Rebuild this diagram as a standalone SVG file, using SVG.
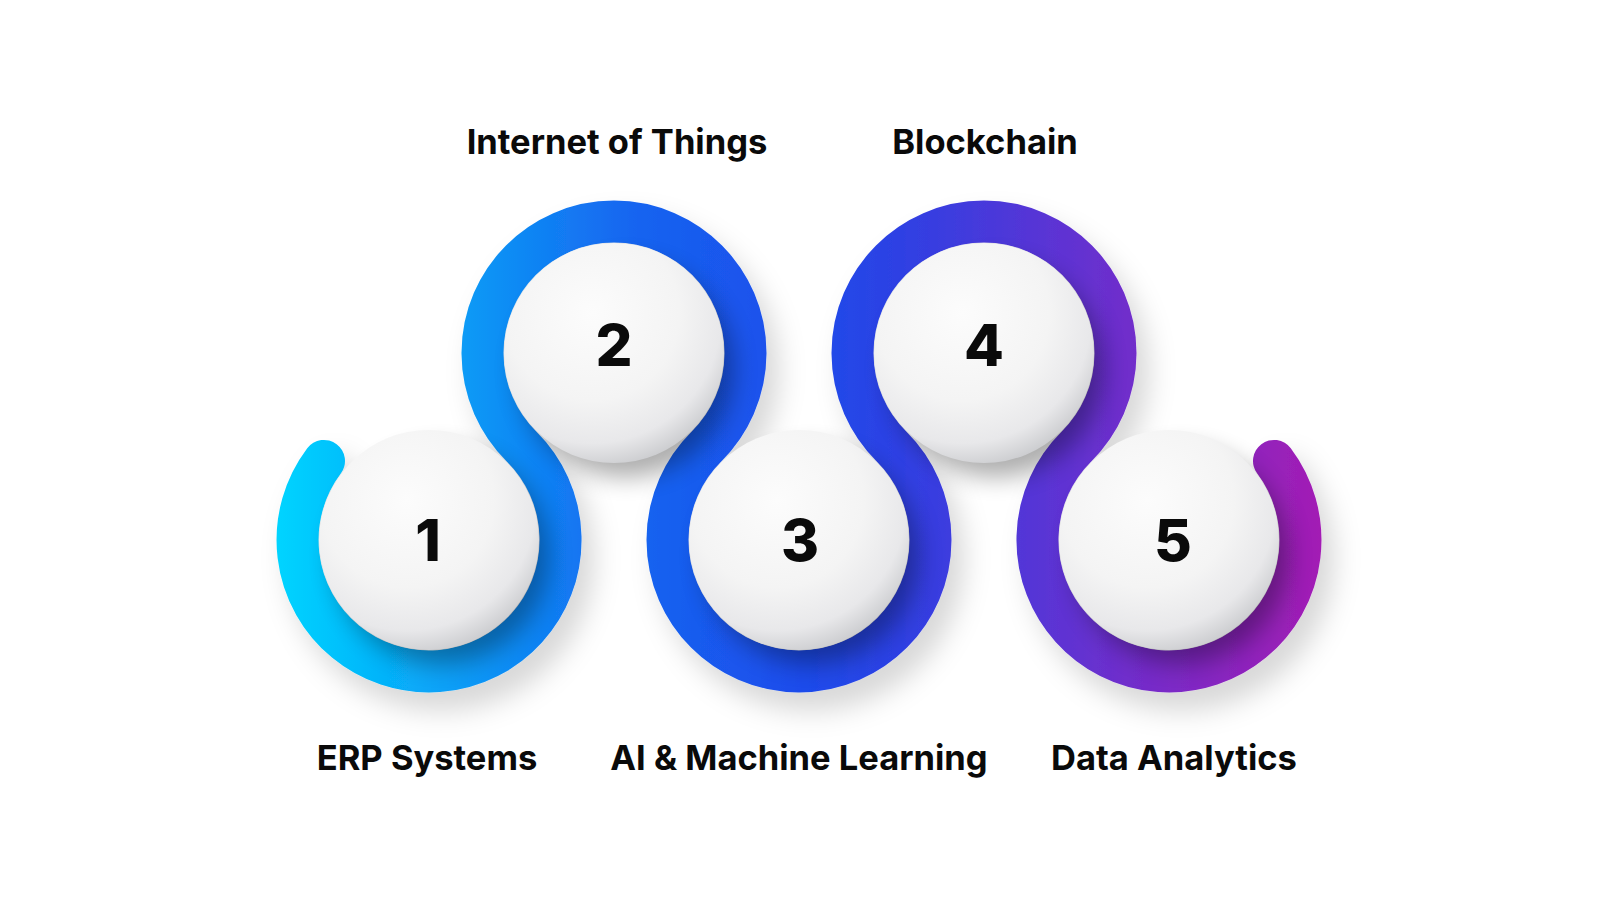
<svg xmlns="http://www.w3.org/2000/svg" width="1600" height="900" viewBox="0 0 1600 900">
  <style>
    .label { font-family: Inter, "Liberation Sans", sans-serif; font-weight: 700; font-size: 34.5px; fill: #0a0a0a; text-anchor: middle; }
    .num { font-family: Inter, "Liberation Sans", sans-serif; font-weight: 800; font-size: 58px; fill: #0a0a0a; text-anchor: middle; }
    .ball { fill: url(#ballGrad); }
    .bshadow { fill: #000; opacity: 0.32; filter: url(#blurS); }
  </style>
  <defs>
    <linearGradient id="ringGrad" gradientUnits="userSpaceOnUse" x1="277" y1="0" x2="1322" y2="0">
      <stop offset="0" stop-color="#00D4FF"/>
      <stop offset="0.18" stop-color="#0A9AF6"/>
      <stop offset="0.34" stop-color="#1765F0"/>
      <stop offset="0.5" stop-color="#1C4CEB"/>
      <stop offset="0.6" stop-color="#2F40E3"/>
      <stop offset="0.75" stop-color="#5E33D3"/>
      <stop offset="1" stop-color="#A31DB4"/>
    </linearGradient>
    <radialGradient id="ballGrad" cx="0.4" cy="0.32" r="0.72">
      <stop offset="0" stop-color="#fcfcfc"/>
      <stop offset="0.55" stop-color="#f4f4f4"/>
      <stop offset="0.82" stop-color="#e8e8ea"/>
      <stop offset="1" stop-color="#c9cacd"/>
    </radialGradient>
    <filter id="blurS" x="-50%" y="-50%" width="200%" height="200%">
      <feGaussianBlur stdDeviation="12"/>
    </filter>
    <filter id="ringShadow" x="-20%" y="-30%" width="140%" height="160%">
      <feGaussianBlur in="SourceAlpha" stdDeviation="14"/>
      <feOffset dx="12" dy="18" result="b"/>
      <feFlood flood-color="#000" flood-opacity="0.16"/>
      <feComposite in2="b" operator="in" result="s"/>
      <feMerge>
        <feMergeNode in="s"/>
        <feMergeNode in="SourceGraphic"/>
      </feMerge>
    </filter>
  </defs>
  <rect width="1600" height="900" fill="#ffffff"/>

  <g id="connectors">
    <path d="M324,460.9 A131.5,131.5 0 1 0 521.5,446.5 A131.5,131.5 0 1 1 706.5,446.5 A131.5,131.5 0 1 0 891.5,446.5 A131.5,131.5 0 1 1 1076.5,446.5 A131.5,131.5 0 1 0 1274,460.9" fill="none" stroke="url(#ringGrad)" stroke-width="42" stroke-linecap="round" filter="url(#ringShadow)"/>
  </g>

  <g id="shadows">
    <circle class="bshadow" cx="441" cy="556" r="108"/>
    <circle class="bshadow" cx="626" cy="369" r="108"/>
    <circle class="bshadow" cx="811" cy="556" r="108"/>
    <circle class="bshadow" cx="996" cy="369" r="108"/>
    <circle class="bshadow" cx="1181" cy="556" r="108"/>
  </g>

  <g id="node1">
    <circle class="ball" cx="429" cy="540" r="110"/>
    <text class="num" x="428" y="561">1</text>
    <text class="label" x="427" y="770">ERP Systems</text>
  </g>
  <g id="node2">
    <circle class="ball" cx="614" cy="353" r="110"/>
    <text class="num" x="614" y="366">2</text>
    <text class="label" x="617" y="154">Internet of Things</text>
  </g>
  <g id="node3">
    <circle class="ball" cx="799" cy="540" r="110"/>
    <text class="num" x="800" y="561">3</text>
    <text class="label" x="799" y="770">AI &amp; Machine Learning</text>
  </g>
  <g id="node4">
    <circle class="ball" cx="984" cy="353" r="110"/>
    <text class="num" x="984" y="366">4</text>
    <text class="label" x="985" y="154">Blockchain</text>
  </g>
  <g id="node5">
    <circle class="ball" cx="1169" cy="540" r="110"/>
    <text class="num" x="1173" y="561">5</text>
    <text class="label" x="1174" y="770">Data Analytics</text>
  </g>
</svg>
